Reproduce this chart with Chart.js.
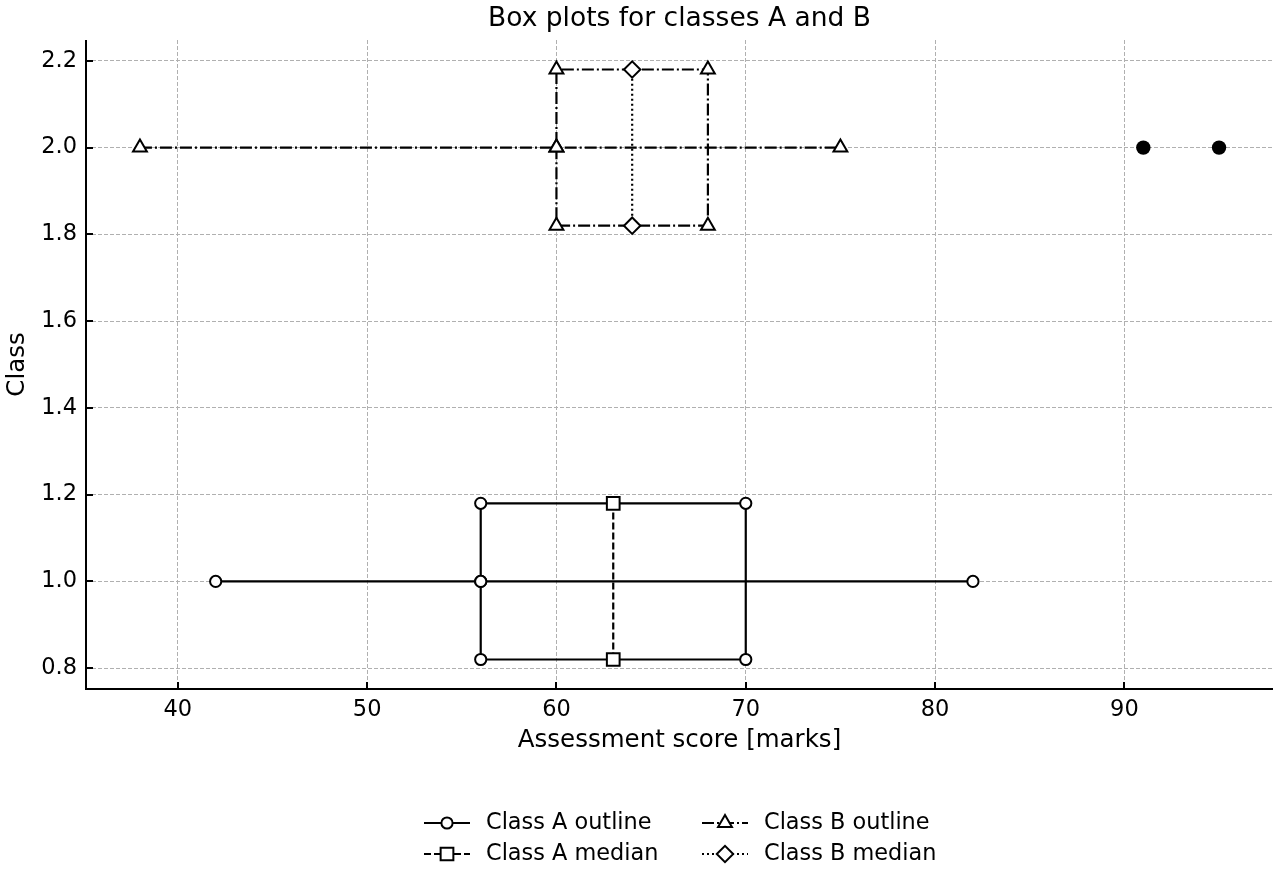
<!DOCTYPE html>
<html>
<head>
<meta charset="utf-8">
<script src="https://cdn.jsdelivr.net/npm/chart.js@4.4.1/dist/chart.umd.min.js"></script>
<style>
  html, body { margin: 0; padding: 0; background: #fff; }
  #wrap { width: 1280px; height: 880px; }
</style>
</head>
<body>
<div id="wrap"><canvas id="boxChart" width="1280" height="880"></canvas></div>
<script>
// ---- data ----
const xTicks = [40, 50, 60, 70, 80, 90];
const yTicks = [0.8, 1.0, 1.2, 1.4, 1.6, 1.8, 2.0, 2.2];

// outline polylines: whisker -> box -> whisker
const classAOutlineX = [42, 56, 56, 70, 70, 56, 56, 82];
const classAOutlineY = [1.0, 1.0, 1.18, 1.18, 0.82, 0.82, 1.0, 1.0];
const classAMedianX = [63, 63];
const classAMedianY = [0.82, 1.18];

const classBOutlineX = [38, 60, 60, 68, 68, 60, 60, 75];
const classBOutlineY = [2.0, 2.0, 2.18, 2.18, 1.82, 1.82, 2.0, 2.0];
const classBMedianX = [64, 64];
const classBMedianY = [1.82, 2.18];

const outlierX = [91, 95];
const outlierY = [2.0, 2.0];

const titleText = 'Box plots for classes A and B';
const xLabel = 'Assessment score [marks]';
const yLabel = 'Class';

const FONT = "'DejaVu Sans', sans-serif";
const DASHED = [7, 3];
const DASHDOT = [12, 3, 2, 3];
const DOTTED = [2, 3];
const MARK_W = 2;

const toPoints = (xs, ys) => xs.map((x, i) => ({ x: x, y: ys[i] }));

const lineSet = (label, xs, ys, style, radius, dash, order) => ({
    label: label,
    data: toPoints(xs, ys),
    showLine: true,
    borderColor: '#000',
    borderWidth: 2.2,
    borderDash: dash,
    borderCapStyle: 'butt',
    tension: 0,
    fill: false,
    pointStyle: style,
    pointRadius: radius,
    pointHoverRadius: radius,
    pointBackgroundColor: '#fff',
    pointBorderColor: '#000',
    pointBorderWidth: MARK_W,
    order: order
});

const legendItems = [
    { text: 'Class A outline', style: 'circle', r: 5.6, dash: [], col: 0, row: 0 },
    { text: 'Class A median', style: 'rect', r: 9, dash: DASHED, col: 0, row: 1 },
    { text: 'Class B outline', style: 'triangle', r: 8, dash: DASHDOT, col: 1, row: 0 },
    { text: 'Class B median', style: 'rectRot', r: 8.2, dash: DOTTED, col: 1, row: 1 }
];

// small marker painter for the legend samples
function drawMarker(ctx, style, x, y, r) {
    ctx.beginPath();
    if (style === 'circle') {
        ctx.arc(x, y, r, 0, Math.PI * 2);
    } else if (style === 'rect') {
        const s = r * Math.SQRT1_2;
        ctx.rect(x - s, y - s, 2 * s, 2 * s);
    } else if (style === 'triangle') {
        ctx.moveTo(x, y - r);
        ctx.lineTo(x + Math.sin(Math.PI * 2 / 3) * r, y + r / 2);
        ctx.lineTo(x - Math.sin(Math.PI * 2 / 3) * r, y + r / 2);
        ctx.closePath();
    } else {
        ctx.moveTo(x - r, y);
        ctx.lineTo(x, y - r);
        ctx.lineTo(x + r, y);
        ctx.lineTo(x, y + r);
        ctx.closePath();
    }
    ctx.fillStyle = '#fff';
    ctx.fill();
    ctx.setLineDash([]);
    ctx.lineWidth = MARK_W;
    ctx.strokeStyle = '#000';
    ctx.stroke();
}

const decorPlugin = {
    id: 'decor',
    afterDraw(chart) {
        const { ctx, chartArea: a, scales } = chart;
        ctx.save();

        // spines (left + bottom) and inward ticks
        ctx.strokeStyle = '#000';
        ctx.setLineDash([]);
        ctx.lineWidth = 2;
        ctx.beginPath();
        ctx.moveTo(a.left, a.top);
        ctx.lineTo(a.left, a.bottom);
        ctx.lineTo(a.right, a.bottom);
        ctx.stroke();

        ctx.beginPath();
        xTicks.forEach(v => {
            const px = Math.round(scales.x.getPixelForValue(v));
            ctx.moveTo(px, a.bottom);
            ctx.lineTo(px, a.bottom - 7);
        });
        yTicks.forEach(v => {
            const py = Math.round(scales.y.getPixelForValue(v));
            ctx.moveTo(a.left, py);
            ctx.lineTo(a.left + 7, py);
        });
        ctx.stroke();

        // titles
        ctx.fillStyle = '#000';
        ctx.textAlign = 'center';
        ctx.textBaseline = 'middle';
        ctx.font = '26.5px ' + FONT;
        ctx.fillText(titleText, (a.left + a.right) / 2, 19);
        ctx.font = '24.5px ' + FONT;
        ctx.fillText(xLabel, (a.left + a.right) / 2, 741);
        ctx.save();
        ctx.translate(18, (a.top + a.bottom) / 2);
        ctx.rotate(-Math.PI / 2);
        ctx.fillText(yLabel, 0, 0);
        ctx.restore();

        // legend
        const colX = [424, 702];
        const rowY = [823, 854];
        ctx.textAlign = 'left';
        ctx.font = '22.4px ' + FONT;
        legendItems.forEach(item => {
            const x0 = colX[item.col];
            const y0 = rowY[item.row];
            ctx.beginPath();
            ctx.setLineDash(item.dash);
            ctx.lineWidth = 2.2;
            ctx.strokeStyle = '#000';
            ctx.moveTo(x0, y0);
            ctx.lineTo(x0 + 46, y0);
            ctx.stroke();
            drawMarker(ctx, item.style, x0 + 23, y0, item.r);
            ctx.fillStyle = '#000';
            ctx.fillText(item.text, x0 + 62, y0);
        });

        ctx.restore();
    }
};

Chart.defaults.font.family = FONT;
Chart.defaults.color = '#000';

new Chart(document.getElementById('boxChart'), {
    type: 'scatter',
    data: {
        datasets: [
            lineSet('Class A outline', classAOutlineX, classAOutlineY, 'circle', 5.6, [], 5),
            lineSet('Class A median', classAMedianX, classAMedianY, 'rect', 9, DASHED, 4),
            lineSet('Class B outline', classBOutlineX, classBOutlineY, 'triangle', 8, DASHDOT, 3),
            lineSet('Class B median', classBMedianX, classBMedianY, 'rectRot', 8.2, DOTTED, 2),
            {
                label: 'outliers',
                data: toPoints(outlierX, outlierY),
                showLine: false,
                pointStyle: 'circle',
                pointRadius: 7.2,
                pointHoverRadius: 7.2,
                pointBackgroundColor: '#000',
                pointBorderColor: '#000',
                pointBorderWidth: 0,
                order: 1
            }
        ]
    },
    options: {
        responsive: false,
        animation: false,
        events: [],
        layout: { autoPadding: false, padding: { top: 40, right: 7, bottom: 0, left: 0 } },
        plugins: {
            legend: { display: false },
            tooltip: { enabled: false },
            title: { display: false }
        },
        scales: {
            x: {
                type: 'linear',
                min: 35.15,
                max: 97.85,
                afterBuildTicks: axis => { axis.ticks = xTicks.map(v => ({ value: v })); },
                afterFit: axis => { axis.height = 191; axis.paddingLeft = 0; axis.paddingRight = 0; },
                grid: { color: '#b0b0b0', lineWidth: 1, drawTicks: false },
                border: { display: false, dash: [4, 2] },
                ticks: { font: { size: 22.5 }, padding: 8, maxRotation: 0 }
            },
            y: {
                type: 'linear',
                min: 0.752,
                max: 2.248,
                afterBuildTicks: axis => { axis.ticks = yTicks.map(v => ({ value: v })); },
                afterFit: axis => { axis.width = 86; axis.paddingTop = 0; axis.paddingBottom = 0; },
                grid: { color: '#b0b0b0', lineWidth: 1, drawTicks: false },
                border: { display: false, dash: [4, 2] },
                ticks: { font: { size: 22.5 }, padding: 9, callback: v => Number(v).toFixed(1) }
            }
        }
    },
    plugins: [decorPlugin]
});
</script>
</body>
</html>
